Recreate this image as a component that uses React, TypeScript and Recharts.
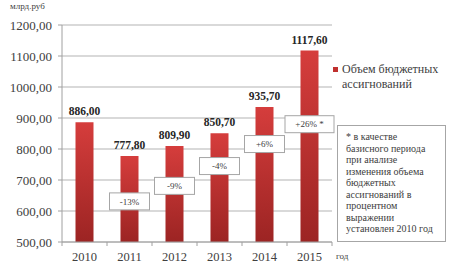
import React from 'react';
import { BarChart, Bar, XAxis, YAxis, CartesianGrid, LabelList, ReferenceDot } from 'recharts';

const years = ['2010', '2011', '2012', '2013', '2014', '2015'];
const allocations = [886.0, 777.8, 809.9, 850.7, 935.7, 1117.6];
// изменение к 2010 году и уровень (в млрд.руб), на котором стоит плашка
const changeLabels = ['', '-13%', '-9%', '-4%', '+6%', '+26% *'];
const changeLevels = [0, 631, 681, 745, 816, 880];
const yTicks = [500, 600, 700, 800, 900, 1000, 1100, 1200];
const noteLines = [
  '* в качестве',
  'базисного периода',
  'при анализе',
  'изменения объема',
  'бюджетных',
  'ассигнований в',
  'процентном',
  'выражении',
  'установлен 2010 год',
];

const SERIF = "'Liberation Serif', Tinos, 'Times New Roman', 'DejaVu Serif', serif";
const W = 450;
const H = 269;
const MARGIN = { top: 25, right: 118, left: 0, bottom: 0 };
const Y_AXIS_W = 62;
const X_AXIS_H = 27;
const BAND = (W - MARGIN.left - MARGIN.right - Y_AXIS_W) / years.length;
const TICK_SIZE = 4;
const TICK_MARGIN = 6;

const data = years.map((year, i) => ({ year, value: allocations[i] }));

const fmt = (v: number) => v.toFixed(2).replace('.', ',');

const YearTick = (props: any) => {
  const { x, y, payload, index } = props;
  const axisY = y - TICK_SIZE - TICK_MARGIN;
  const half = BAND / 2;
  return (
    <g>
      <line x1={x - half} x2={x - half} y1={axisY} y2={axisY + TICK_SIZE} stroke="#a0a0a0" />
      {index === years.length - 1 && (
        <line x1={x + half} x2={x + half} y1={axisY} y2={axisY + TICK_SIZE} stroke="#a0a0a0" />
      )}
      <text x={x} y={y} dy="0.71em" textAnchor="middle" fill="#404040" fontSize={12.5} style={{ fontFamily: SERIF }}>
        {payload.value}
      </text>
    </g>
  );
};

const ChangeBox = (text: string) => (props: any) => {
  const { cx, cy } = props;
  const w = text.length > 4 ? 49 : 40;
  const h = 17;
  return (
    <g>
      <rect x={cx - w / 2} y={cy - h / 2} width={w} height={h} fill="#fff" stroke="#a6a6a6" />
      <text x={cx} y={cy} dy="0.35em" textAnchor="middle" fill="#404040" fontSize={9} style={{ fontFamily: SERIF }}>
        {text}
      </text>
    </g>
  );
};

export default function App() {
  return (
    <div
      style={{
        position: 'absolute',
        left: 0,
        top: 0,
        width: W,
        height: H,
        background: '#fff',
        fontFamily: SERIF,
        color: '#404040',
      }}
    >
      <div style={{ position: 'absolute', left: 10, top: 1, fontSize: 9 }}>млрд.руб</div>
      <BarChart width={W} height={H} data={data} margin={MARGIN} barCategoryGap="30%" style={{ fontFamily: SERIF }}>
        <defs>
          <linearGradient id="barFill" x1="0" y1="0" x2="0" y2="1">
            <stop offset="0%" stopColor="#d53d3c" />
            <stop offset="100%" stopColor="#9c2423" />
          </linearGradient>
        </defs>
        <CartesianGrid vertical={false} stroke="#b3b3b3" />
        <XAxis
          dataKey="year"
          height={X_AXIS_H}
          axisLine={{ stroke: '#a0a0a0' }}
          tickLine={false}
          tickSize={TICK_SIZE}
          tickMargin={TICK_MARGIN}
          tick={<YearTick />}
          interval={0}
          label={{ value: 'год', position: 'right', offset: 4, fill: '#404040', fontSize: 9 }}
        />
        <YAxis
          width={Y_AXIS_W}
          domain={[500, 1200]}
          ticks={yTicks}
          tickFormatter={fmt}
          axisLine={{ stroke: '#a0a0a0' }}
          tickLine={{ stroke: '#a0a0a0' }}
          tickSize={4}
          tickMargin={6}
          tick={{ fill: '#404040', fontSize: 13 }}
        />
        <Bar dataKey="value" name="Объем бюджетных ассигнований" fill="url(#barFill)" isAnimationActive={false}>
          <LabelList
            dataKey="value"
            position="top"
            offset={7}
            formatter={(v: any) => fmt(Number(v))}
            fill="#262626"
            fontSize={11.5}
            fontWeight="bold"
          />
        </Bar>
        {years.map((year, i) =>
          changeLabels[i] ? (
            <ReferenceDot
              key={year}
              x={year}
              y={changeLevels[i]}
              r={0}
              ifOverflow="visible"
              shape={ChangeBox(changeLabels[i])}
            />
          ) : null
        )}
      </BarChart>
      <div style={{ position: 'absolute', left: 333, top: 62, display: 'flex', fontSize: 12, lineHeight: '15px' }}>
        <div style={{ width: 5, height: 5, background: '#c0302e', marginTop: 5, marginRight: 4, flexShrink: 0 }} />
        <div>
          Объем бюджетных
          <br />
          ассигнований
        </div>
      </div>
      <div
        style={{
          position: 'absolute',
          left: 337,
          top: 125,
          width: 109,
          height: 117,
          boxSizing: 'border-box',
          border: '1px solid #a6a6a6',
          padding: '5px 0 0 8px',
          fontSize: 10,
          lineHeight: '11.5px',
          background: '#fff',
          whiteSpace: 'nowrap',
        }}
      >
        {noteLines.map((line) => (
          <div key={line}>{line}</div>
        ))}
      </div>
    </div>
  );
}
